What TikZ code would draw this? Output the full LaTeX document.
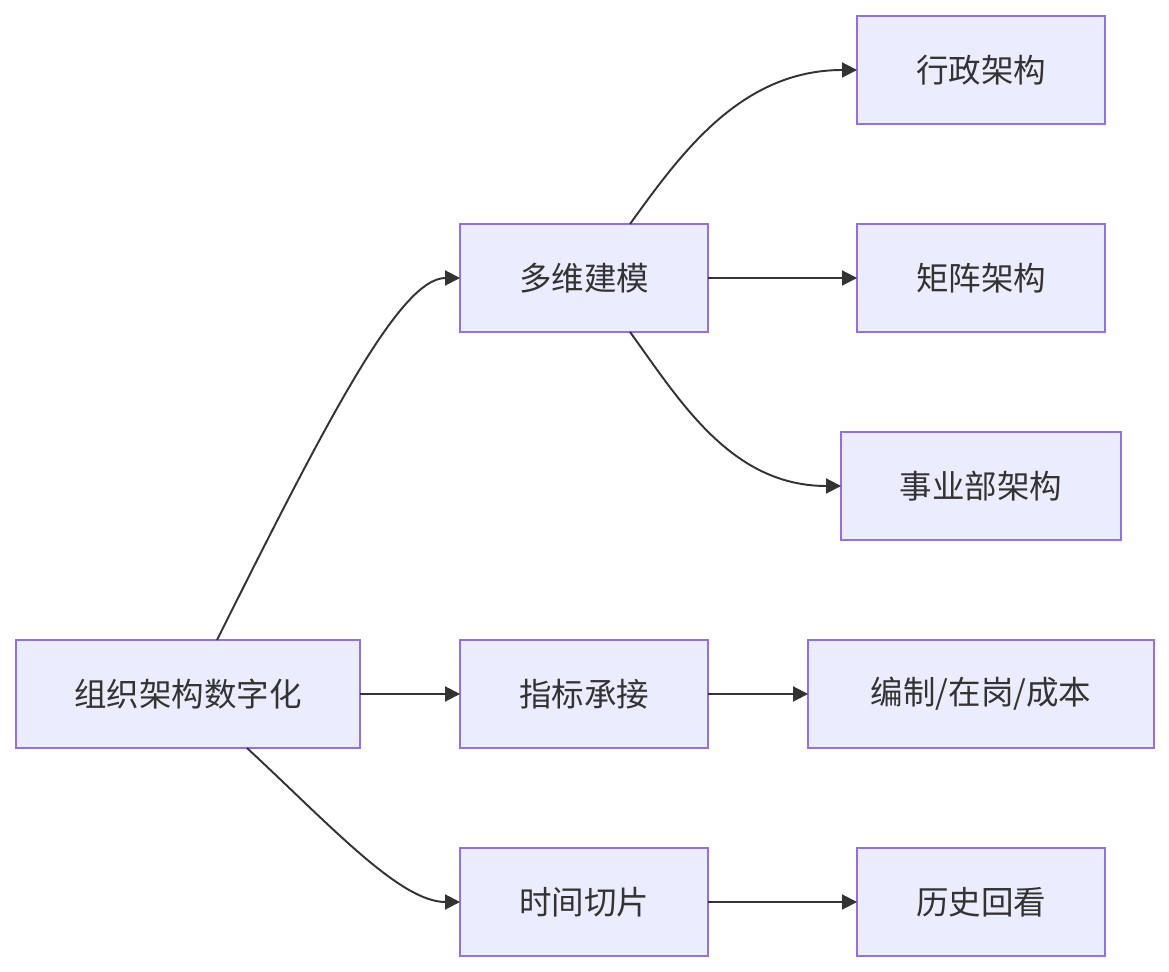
\documentclass[tikz,border=0pt]{standalone}
\usepackage{fontspec}
\setmainfont{Noto Sans CJK SC}
\usetikzlibrary{arrows.meta}
\definecolor{boxfill}{HTML}{ECECFF}
\definecolor{boxline}{HTML}{9370DB}
\definecolor{ink}{HTML}{333333}

\begin{document}
\begin{tikzpicture}[x=0.02cm, y=-0.02cm,
    box/.style={draw=boxline, fill=boxfill, line width=1.1pt, inner sep=0pt, outer sep=0pt,
      minimum width=4.96cm, minimum height=2.16cm, text=ink, font=\fontsize{18.5}{22}\selectfont},
    flow/.style={draw=ink, line width=1.1pt, -{Triangle[length=0.3cm, width=0.3cm]}}]
    \useasboundingbox (0,0) rectangle (1169,972);
    % root
    \node[box, minimum width=6.88cm] (root) at (188,694) {组织架构数字化};
    % second column
    \node[box] (model) at (584,278) {多维建模};
    \node[box] (metric) at (584,694) {指标承接};
    \node[box] (slice) at (584,902) {时间切片};
    % third column
    \node[box] (admin) at (981,70) {行政架构};
    \node[box] (matrix) at (981,278) {矩阵架构};
    \node[box, minimum width=5.6cm] (division) at (981,486) {事业部架构};
    \node[box, minimum width=6.92cm] (cost) at (981,694) {编制/在岗/成本};
    \node[box] (history) at (981,902) {历史回看};
    % edges
    \draw[flow] ([xshift=0.58cm]root.north) .. controls +(110,-220) and +(-60,0) .. (model.west);
    \draw[flow] (root.east) -- (metric.west);
    \draw[flow] ([xshift=1.18cm]root.south) .. controls +(83,77) and +(-60,0) .. (slice.west);
    \draw[flow] ([xshift=0.92cm]model.north) .. controls +(50,-69) and +(-117,0) .. (admin.west);
    \draw[flow] (model.east) -- (matrix.west);
    \draw[flow] ([xshift=0.92cm]model.south) .. controls +(50,69) and +(-110,0) .. (division.west);
    \draw[flow] (metric.east) -- (cost.west);
    \draw[flow] (slice.east) -- (history.west);
\end{tikzpicture}
\end{document}
